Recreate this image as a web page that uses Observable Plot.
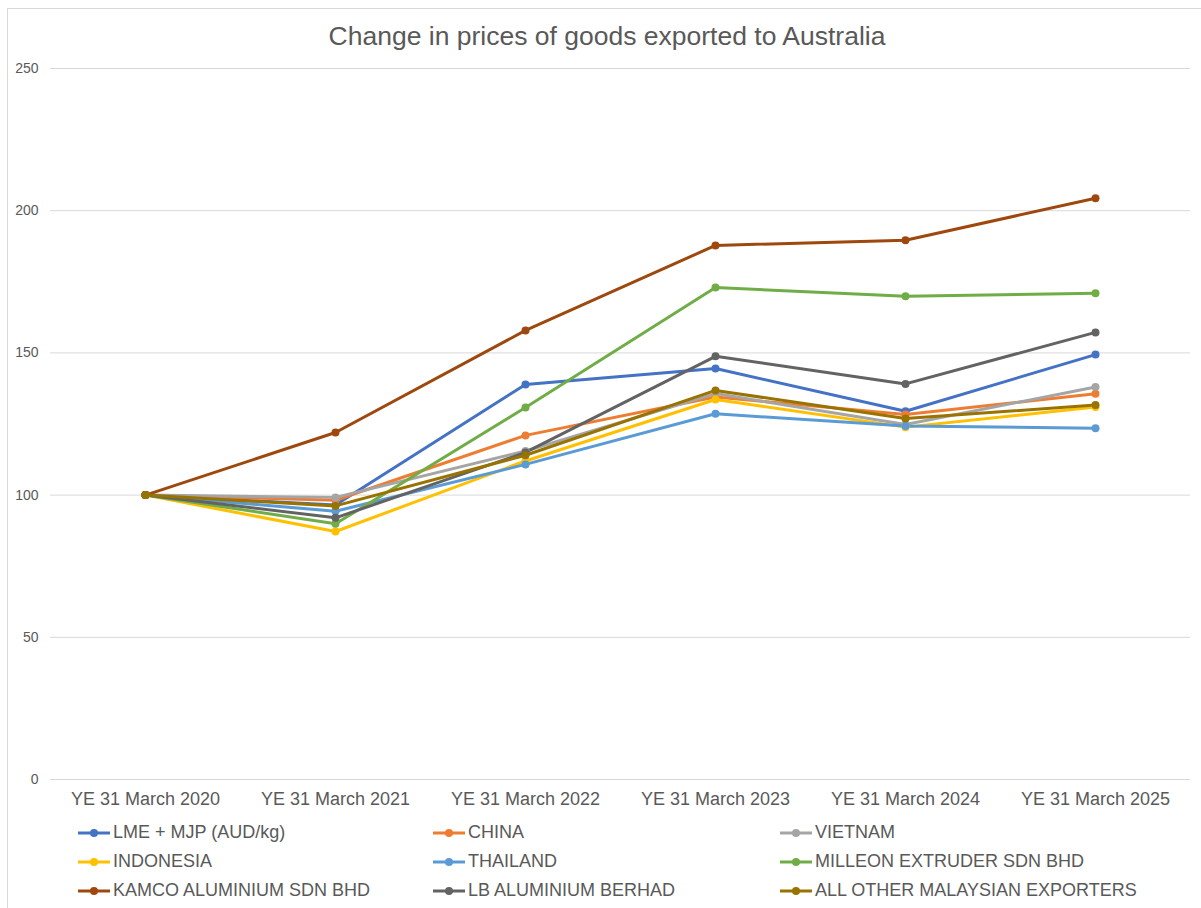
<!DOCTYPE html>
<html>
<head>
<meta charset="utf-8">
<script src="https://cdn.jsdelivr.net/npm/d3@7"></script>
<script src="https://cdn.jsdelivr.net/npm/@observablehq/plot@0.6"></script>
<style>
  body { margin: 0; background: #fff; font-family: "Liberation Sans", Arial, sans-serif; }
  #wrap { position: relative; width: 1201px; height: 908px; overflow: hidden; }
  #frame { position: absolute; left: 7px; top: 8px; width: 1220px; height: 940px; border: 1px solid #d9d9d9; box-sizing: border-box; pointer-events: none; }
  #title { position: absolute; top: 21px; left: 0; width: 1214px; text-align: center; font-size: 26.5px; color: #595959; line-height: 30px; }
  #chart { position: absolute; top: 55px; left: 0; }
  #legend { position: absolute; top: 0; left: 0; width: 1201px; }
  .item { position: absolute; font-size: 18px; line-height: 21px; color: #595959; white-space: nowrap; display: flex; align-items: center; }
  .item svg { margin-right: 3px; }
</style>
</head>
<body>
<div id="wrap">
  <div id="frame"></div>
  <div id="title">Change in prices of goods exported to Australia</div>
  <div id="chart"></div>
  <div id="legend"></div>
</div>
<script>
const years = ["YE 31 March 2020", "YE 31 March 2021", "YE 31 March 2022", "YE 31 March 2023", "YE 31 March 2024", "YE 31 March 2025"];
const seriesNames = ["LME + MJP (AUD/kg)", "CHINA", "VIETNAM", "INDONESIA", "THAILAND", "MILLEON EXTRUDER SDN BHD", "KAMCO ALUMINIUM SDN BHD", "LB ALUMINIUM BERHAD", "ALL OTHER MALAYSIAN EXPORTERS"];
const seriesColors = ["#4472C4", "#ED7D31", "#A5A5A5", "#FFC000", "#5B9BD5", "#70AD47", "#9E480E", "#636363", "#997300"];
const yTicks = [0, 50, 100, 150, 200, 250];

const lme       = [100, 96.5, 138.9, 144.5, 129.5, 149.4];
const china     = [100, 98.2, 121.0, 134.5, 128.3, 135.6];
const vietnam   = [100, 99.2, 115.5, 135.7, 124.8, 138.0];
const indonesia = [100, 87.2, 112.0, 133.6, 123.9, 131.0];
const thailand  = [100, 94.3, 110.8, 128.6, 124.3, 123.5];
const milleon   = [100, 89.9, 130.8, 173.0, 169.9, 171.0];
const kamco     = [100, 122.0, 157.9, 187.8, 189.6, 204.4];
const lbAlu     = [100, 92.0, 115.0, 148.8, 139.1, 157.2];
const allOther  = [100, 96.2, 114.0, 136.8, 126.9, 131.7];

const seriesValues = [lme, china, vietnam, indonesia, thailand, milleon, kamco, lbAlu, allOther];
const data = [];
seriesNames.forEach((s, i) => {
  years.forEach((y, j) => data.push({series: s, year: y, value: seriesValues[i][j]}));
});

const colorScale = {domain: seriesNames, range: seriesColors};

const plot = Plot.plot({
  width: 1201,
  height: 760,
  marginLeft: 50,
  marginRight: 11,
  marginTop: 13,
  marginBottom: 36,
  style: {fontFamily: "'Liberation Sans', Arial, sans-serif", color: "#595959", background: "transparent"},
  x: {type: "point", domain: years, padding: 0.5, label: null},
  y: {domain: [0, 250], label: null},
  color: colorScale,
  marks: [
    Plot.gridY(yTicks, {stroke: "#d9d9d9", strokeOpacity: 1, strokeWidth: 1}),
    Plot.axisY(yTicks, {tickSize: 0, tickPadding: 12, fontSize: 14, label: null}),
    Plot.axisX({tickSize: 0, tickPadding: 13, fontSize: 18, label: null}),
    Plot.line(data, {x: "year", y: "value", stroke: "series", z: "series", strokeWidth: 3, curve: "linear"}),
    Plot.dot(data, {x: "year", y: "value", fill: "series", r: 4})
  ]
});
document.getElementById("chart").appendChild(plot);

const legend = document.getElementById("legend");
const colX = [78, 433, 780];
const rowY = [822, 851, 880];
seriesNames.forEach((s, i) => {
  const d = document.createElement("div");
  d.className = "item";
  d.style.left = colX[i % 3] + "px";
  d.style.top = rowY[Math.floor(i / 3)] + "px";
  d.innerHTML = `<svg width="32" height="12"><line x1="0" x2="32" y1="6" y2="6" stroke="${seriesColors[i]}" stroke-width="3"/><circle cx="16" cy="6" r="4" fill="${seriesColors[i]}"/></svg><span>${s}</span>`;
  legend.appendChild(d);
});
</script>
</body>
</html>
